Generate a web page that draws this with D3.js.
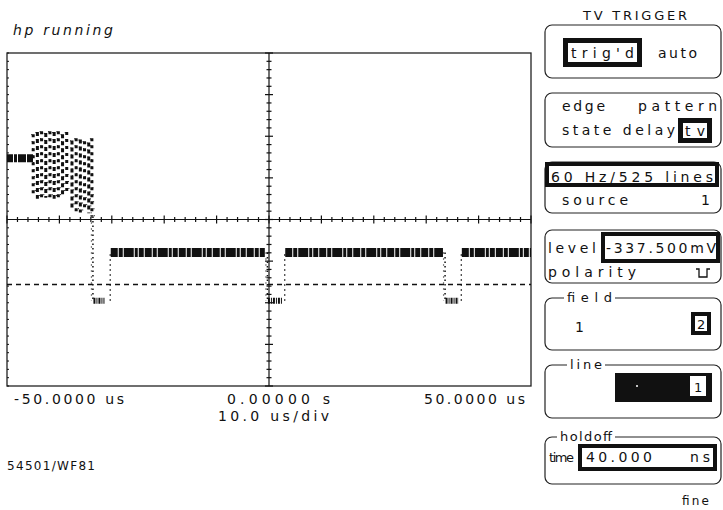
<!DOCTYPE html>
<html><head><meta charset="utf-8">
<script src="https://cdn.jsdelivr.net/npm/d3@7"></script>
<style>
html,body{margin:0;padding:0;background:#fff;}
svg{display:block;font-family:"DejaVu Sans",sans-serif;}
</style></head><body>
<svg id="c" width="723" height="510"></svg>
<script>
// ---------------- data ----------------
const statusText = "hp running";
const modelText = "54501/WF81";
const xTickValues = [-50, 0, 50];
const xTickLabels = ["-50.0000 us", "0.00000  s", "50.0000 us"];
const timebaseLabel = "10.0 us/div";
const timeDomain = [-50, 50];     // microseconds
const divDomain = [-4, 4];        // vertical divisions
const triggerLevel = -1.56;       // dashed trigger level (div)

// pre-blanking trace
const preLevelT = [-50, -45.0];
const preLevel = 1.47;

// vertical blanking burst (columns of marks)
const blobT      = [-45.0,-44.2,-43.4,-42.6,-41.8,-41.0,-40.2,-39.4,-38.6,-37.6,-36.8,-36.0,-35.2,-34.4,-33.8];
const blobTop    = [ 2.05, 2.10, 2.12, 2.08, 2.12, 2.10, 2.12, 2.05, 2.10, 1.90, 1.95, 1.92, 1.88, 1.85, 1.95];
const blobBottom = [ 0.55, 0.50, 0.48, 0.52, 0.48, 0.50, 0.48, 0.55, 0.60, 0.22, 0.18, 0.17, 0.20, 0.15, 0.07];

// horizontal sync pulses
const syncFallT   = [-33.6, -0.3, 33.6];
const syncFallTop = [0.07, -0.79, -0.79];
const syncRiseT   = [-30.3, 3.0, 36.7];
const syncTipEndT = [-31.4, 2.6, 36.2];
const syncLow = -1.95;
const lineLevel = -0.79;
const lineStartT = [-30.2, 3.1, 36.8];
const lineEndT   = [-0.8, 33.2, 50];

// right-hand softkey panel
const panelTitle = "TV TRIGGER";
const modeKeys = ["trig'd", "auto"];
const triggerTypes = ["edge", "pattern", "state delay", "tv"];
const standardText = "60 Hz/525 lines";
const sourceLabel = "source", sourceValue = "1";
const levelLabel = "level", levelValue = "-337.500mV";
const polarityLabel = "polarity";
const fieldTitle = "field", fieldOptions = ["1", "2"];
const lineTitle = "line", lineValue = "1";
const holdoffTitle = "holdoff", holdoffLabel = "time", holdoffValue = "40.000", holdoffUnit = "ns";
const footText = "fine";

// ---------------- drawing ----------------
const svg = d3.select("#c");
svg.append("rect").attr("width", 723).attr("height", 510).attr("fill", "#fff");

const P = {left: 7, top: 53, right: 531, bottom: 386};
const x = d3.scaleLinear().domain(timeDomain).range([P.left, P.right]);
const y = d3.scaleLinear().domain(divDomain).range([P.bottom, P.top]);
const ink = "#111";

function txt(g, xx, yy, s, len, size, extra) {
  const t = g.append("text").attr("x", xx).attr("y", yy).text(s)
    .attr("font-size", size || 14).attr("fill", ink);
  if (len) t.attr("textLength", len).attr("lengthAdjust", "spacing");
  if (extra) extra(t);
  return t;
}

// status text
txt(svg, 13, 35, statusText, 100, 14, t => t.attr("font-style", "italic"));

// plot frame
const plot = svg.append("g");
plot.append("rect").attr("x", P.left).attr("y", P.top)
  .attr("width", P.right - P.left).attr("height", P.bottom - P.top)
  .attr("fill", "none").attr("stroke", "#222").attr("stroke-width", 1.3);

// center axes
const x0 = x(0), y0 = y(0);
plot.append("line").attr("x1", x0).attr("x2", x0).attr("y1", P.top).attr("y2", P.bottom)
  .attr("stroke", ink).attr("stroke-width", 1.2);
plot.append("line").attr("x1", P.left).attr("x2", P.right).attr("y1", y0).attr("y2", y0)
  .attr("stroke", ink).attr("stroke-width", 1.2);

const vTicks = d3.range(-20, 21).map(i => i / 5);
plot.selectAll(".vt").data(vTicks).join("line")
  .attr("x1", d => x0 - (Math.abs(d % 1) < 1e-9 ? 4 : 2.5))
  .attr("x2", d => x0 + (Math.abs(d % 1) < 1e-9 ? 4 : 2.5))
  .attr("y1", d => y(d)).attr("y2", d => y(d))
  .attr("stroke", ink).attr("stroke-width", 1.2);
// left border ticks
plot.selectAll(".lt").data(vTicks).join("line")
  .attr("x1", P.left).attr("x2", P.left + 2)
  .attr("y1", d => y(d)).attr("y2", d => y(d))
  .attr("stroke", ink).attr("stroke-width", 1);

const hTicks = d3.range(-25, 26).map(i => i * 2);
plot.selectAll(".ht").data(hTicks).join("line")
  .attr("x1", d => x(d)).attr("x2", d => x(d))
  .attr("y1", d => y0 - (d % 10 === 0 ? 4 : 2.5))
  .attr("y2", d => y0 + (d % 10 === 0 ? 4 : 2.5))
  .attr("stroke", ink).attr("stroke-width", 1.2);

// trigger level dashed line
plot.append("line").attr("x1", P.left).attr("x2", P.right)
  .attr("y1", y(triggerLevel)).attr("y2", y(triggerLevel))
  .attr("stroke", ink).attr("stroke-width", 1.5).attr("stroke-dasharray", "5,4");

// waveform
const wave = plot.append("g");
// pre-blanking level
wave.append("line").attr("x1", x(preLevelT[0])).attr("x2", x(preLevelT[1]))
  .attr("y1", y(preLevel)).attr("y2", y(preLevel))
  .attr("stroke", ink).attr("stroke-width", 8).attr("stroke-dasharray", "6,1,3,1,8,1");

// blanking burst
wave.selectAll(".blob").data(blobT).join("line")
  .attr("x1", d => x(d)).attr("x2", d => x(d))
  .attr("y1", (d, i) => y(blobTop[i])).attr("y2", (d, i) => y(blobBottom[i]))
  .attr("stroke", ink).attr("stroke-width", 3)
  .attr("stroke-dasharray", (d, i) => i % 2 ? "4,3" : "3,4");
wave.selectAll(".blobh").data(blobT).join("line")
  .attr("x1", d => x(d) - 1.5).attr("x2", d => x(d) + 2.5)
  .attr("y1", (d, i) => y(blobTop[i])).attr("y2", (d, i) => y(blobBottom[i]))
  .attr("stroke", ink).attr("stroke-width", 1)
  .attr("stroke-dasharray", "1,6");

// line-level bands
wave.selectAll(".band").data(lineStartT).join("line")
  .attr("x1", d => x(d)).attr("x2", (d, i) => x(lineEndT[i]))
  .attr("y1", y(lineLevel)).attr("y2", y(lineLevel))
  .attr("stroke", ink).attr("stroke-width", 9)
  .attr("stroke-dasharray", "7,1,4,1,10,1,3,1,5,1");

// sync edges (dotted)
wave.selectAll(".fall").data(syncFallT).join("line")
  .attr("x1", d => x(d)).attr("x2", d => x(d))
  .attr("y1", (d, i) => y(syncFallTop[i])).attr("y2", y(syncLow))
  .attr("stroke", ink).attr("stroke-width", 1.5).attr("stroke-dasharray", "1.5,3");
wave.selectAll(".fall2").data(syncFallT).join("line")
  .attr("x1", d => x(d) - 1.5).attr("x2", d => x(d) - 1.5)
  .attr("y1", (d, i) => y(syncFallTop[i])).attr("y2", y(syncLow))
  .attr("stroke", ink).attr("stroke-width", 1.2).attr("stroke-dasharray", "1,5");
wave.selectAll(".rise").data(syncRiseT).join("line")
  .attr("x1", d => x(d)).attr("x2", d => x(d))
  .attr("y1", y(syncLow)).attr("y2", y(lineLevel))
  .attr("stroke", ink).attr("stroke-width", 1.3).attr("stroke-dasharray", "1.5,3.5");
// sync tips
wave.selectAll(".tip").data(syncFallT).join("line")
  .attr("x1", d => x(d) + 0.5).attr("x2", (d, i) => x(syncTipEndT[i]))
  .attr("y1", y(syncLow)).attr("y2", y(syncLow))
  .attr("stroke", ink).attr("stroke-width", 6).attr("stroke-dasharray", "2,1,1,1");

// x labels
const xLabelLens = [110, 103, 101];
const xLabelX = [14, 227, 424];
xTickLabels.forEach((s, i) => txt(svg, xLabelX[i], 404, s, xLabelLens[i], 14));
txt(svg, 218, 421, timebaseLabel, 111, 14);
txt(svg, 7, 470, modelText, 88, 12);

// ---------------- panel ----------------
const pg = svg.append("g");
const PX = 545, PW = 176;
function roundBox(yy, h) {
  pg.append("rect").attr("x", PX).attr("y", yy).attr("width", PW).attr("height", h)
    .attr("rx", 7).attr("fill", "none").attr("stroke", "#222").attr("stroke-width", 1.2);
}
function hiBox(xx, yy, w, h, b) {
  b = b || 4;
  pg.append("rect").attr("x", xx).attr("y", yy).attr("width", w).attr("height", h).attr("fill", ink);
  pg.append("rect").attr("x", xx + b).attr("y", yy + b).attr("width", w - 2 * b).attr("height", h - 2 * b).attr("fill", "#fff");
}
function titled(yy, h, title, tx, tw) {
  roundBox(yy, h);
  pg.append("rect").attr("x", tx - 3).attr("y", yy - 3).attr("width", tw + 6).attr("height", 6).attr("fill", "#fff");
  txt(pg, tx, yy + 4, title, tw, 13);
}

txt(pg, 583, 20, panelTitle, 104, 13);

roundBox(25, 53);
hiBox(563, 38, 79, 29, 5);
txt(pg, 571, 58, modeKeys[0], 63, 14);
txt(pg, 658, 58, modeKeys[1], 39, 14);

roundBox(93, 54);
txt(pg, 562, 111, triggerTypes[0], 43, 14);
txt(pg, 638, 111, triggerTypes[1], 79, 14);
txt(pg, 562, 135, triggerTypes[2], 113, 14);
hiBox(678, 118, 34, 25, 5);
txt(pg, 685, 136, triggerTypes[3], 20, 14);

roundBox(162, 51);
hiBox(545, 162, 174, 25, 4);
txt(pg, 551, 182, standardText, 162, 14);
txt(pg, 562, 205, sourceLabel, 66, 14);
txt(pg, 701, 205, sourceValue, null, 14);

roundBox(230, 53);
txt(pg, 548, 253, levelLabel, 48, 14);
hiBox(601, 232, 119, 31, 4);
txt(pg, 606, 253, levelValue, 110, 14);
txt(pg, 548, 277, polarityLabel, 88, 14);
// polarity symbol
pg.append("path").attr("d", "M696,269 h3 v8 h8 v-8 h3")
  .attr("fill", "none").attr("stroke", ink).attr("stroke-width", 1.3);

titled(298, 52, fieldTitle, 567, 45);
txt(pg, 575, 332, fieldOptions[0], null, 14);
hiBox(691, 312, 20, 23, 4);
txt(pg, 697, 329, fieldOptions[1], null, 13);

titled(365, 53, lineTitle, 570, 32);
pg.append("rect").attr("x", 615).attr("y", 373).attr("width", 97).attr("height", 29).attr("fill", ink);
pg.append("circle").attr("cx", 637).attr("cy", 386).attr("r", 1).attr("fill", "#fff");
pg.append("rect").attr("x", 690).attr("y", 376).attr("width", 16).attr("height", 20).attr("fill", "#fff");
txt(pg, 694, 392, lineValue, null, 13);

titled(437, 47, holdoffTitle, 560, 52);
hiBox(578, 444, 139, 27, 4);
txt(pg, 549, 462, holdoffLabel, 25, 13);
txt(pg, 586, 462, holdoffValue, 66, 14);
txt(pg, 690, 462, holdoffUnit, 20, 14);

txt(pg, 682, 505, footText, 27, 12);
</script>
</body></html>
